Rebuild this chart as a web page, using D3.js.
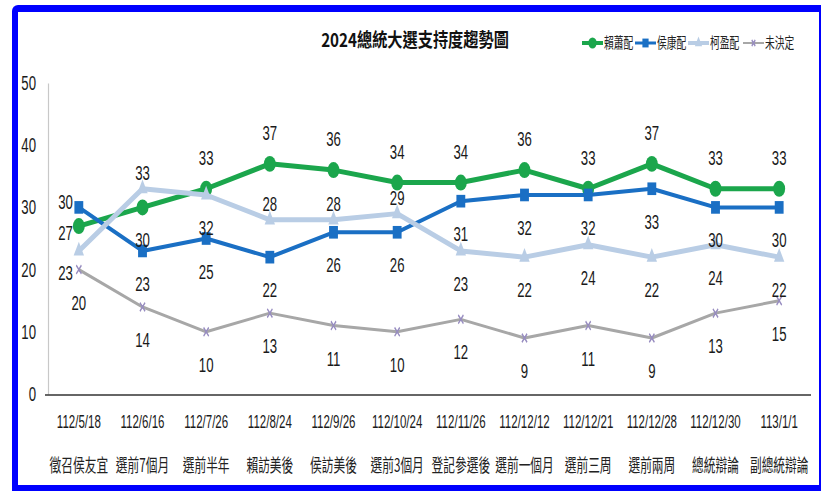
<!DOCTYPE html>
<html>
<head>
<meta charset="utf-8">
<script src="https://cdn.jsdelivr.net/npm/d3@7"></script>
<style>
  body { margin: 0; background: #fff; }
</style>
</head>
<body>
<div id="chart"></div>
<script>
// survey dates and events
var dates = ['112/5/18', '112/6/16', '112/7/26', '112/8/24', '112/9/26', '112/10/24',
  '112/11/26', '112/12/12', '112/12/21', '112/12/28', '112/12/30', '113/1/1'];
var events = ['徵召侯友宜', '選前7個月', '選前半年', '賴訪美後', '侯訪美後', '選前3個月',
  '登記參選後', '選前一個月', '選前三周', '選前兩周', '總統辯論', '副總統辯論'];

// support (%)
var lai = [27, 30, 33, 37, 36, 34, 34, 36, 33, 37, 33, 33];
var hou = [30, 23, 25, 22, 26, 26, 31, 32, 32, 33, 30, 30];
var ko = [23, 33, 32, 28, 28, 29, 23, 22, 24, 22, 24, 22];
var undecided = [20, 14, 10, 13, 11, 10, 12, 9, 11, 9, 13, 15];

var yTicks = [0, 10, 20, 30, 40, 50];

// where each value label sits: l = left, a = above, b = below
var laiPos = ['l', 'b', 'a', 'a', 'a', 'a', 'a', 'a', 'a', 'a', 'a', 'a'];
var houPos = ['l', 'b', 'b', 'b', 'b', 'b', 'b', 'b', 'b', 'b', 'b', 'b'];
var koPos = ['l', 'a', 'b', 'a', 'a', 'a', 'b', 'b', 'b', 'b', 'b', 'b'];
var undPos = ['b', 'b', 'b', 'b', 'b', 'b', 'b', 'b', 'b', 'b', 'b', 'b'];

var W = 821, H = 491;
var SX = 0.66; // the original picture is squeezed sideways
var NUM_FONT = 'Liberation Sans, Arial, sans-serif';
var CJK_FONT = '"Noto Sans CJK TC", "Noto Sans CJK SC", sans-serif';

var svg = d3.select('#chart').append('svg')
  .attr('width', W)
  .attr('height', H)
  .style('display', 'block');

// blue frame
svg.append('rect')
  .attr('x', 12).attr('y', 5)
  .attr('width', W).attr('height', H)
  .attr('rx', 6)
  .attr('fill', '#0000ff');
svg.append('rect')
  .attr('x', 18).attr('y', 12)
  .attr('width', 819 - 18).attr('height', 485 - 12)
  .attr('fill', '#fff');

var x = d3.scalePoint().domain(d3.range(dates.length)).range([47, 811]).padding(0.5);
var y = d3.scaleLinear().domain([0, 50]).range([394, 83]);

function label(g, px, py, s, opt) {
  opt = opt || {};
  return g.append('text')
    .attr('transform', 'translate(' + px + ',' + py + ') scale(' + (opt.sx || SX) + ',1)')
    .attr('text-anchor', opt.anchor || 'middle')
    .attr('font-family', opt.font || NUM_FONT)
    .attr('font-size', opt.size || 20)
    .attr('font-weight', opt.weight || 'normal')
    .attr('fill', opt.fill || '#1a1a1a')
    .text(s);
}

// title
label(svg, 415, 47, '2024總統大選支持度趨勢圖', { font: CJK_FONT, size: 19, weight: 'bold', sx: 0.8, fill: '#111' });

// y axis
var yAxis = svg.append('g')
  .attr('transform', 'translate(48,0)')
  .call(d3.axisLeft(y).tickValues(yTicks).tickSize(0).tickPadding(12));
yAxis.select('.domain').attr('stroke', '#c8c8c8').attr('stroke-width', 1.2);
yAxis.selectAll('.tick text')
  .attr('font-family', NUM_FONT)
  .attr('font-size', 20)
  .attr('fill', '#1a1a1a')
  .attr('x', -12 / SX)
  .attr('transform', 'scale(' + SX + ',1)');

// x axis line
svg.append('line')
  .attr('x1', 45).attr('x2', 811)
  .attr('y1', y(0) + 1).attr('y2', y(0) + 1)
  .attr('stroke', '#333').attr('stroke-width', 1.5);

var xLab = svg.append('g');
dates.forEach(function(d, i) {
  label(xLab, x(i), 428, d, { size: 18, sx: 0.64 });
  label(xLab, x(i), 472, events[i], { font: CJK_FONT, size: 18, sx: 0.65, fill: '#222' });
});

var series = [
  { name: '賴蕭配', values: lai, pos: laiPos, color: '#1ba64c', width: 5, sym: d3.symbolCircle, size: 200, msx: 0.75, above: -31 },
  { name: '侯康配', values: hou, pos: houPos, color: '#1a6fc4', width: 4, sym: d3.symbolSquare, size: 160, msx: 0.7, above: -31 },
  { name: '柯盈配', values: ko, pos: koPos, color: '#b9cde5', width: 5, sym: d3.symbolTriangle, size: 110, msx: 0.65, above: -16 },
  { name: '未決定', values: undecided, pos: undPos, color: '#a7a7a7', width: 3, sym: d3.symbolTimes || d3.symbolX, size: 50, msx: 0.6, above: -31, xMark: '#978cc0' }
];

// left-side label tweaks for the first point (center offset)
var leftDy = { '賴蕭配': 7, '侯康配': -5, '柯盈配': 22, '未決定': 0 };

function marker(g, s, px, py, k) {
  k = k || 1;
  var p = g.append('path')
    .attr('d', d3.symbol().type(s.sym).size(s.size * k * k)())
    .attr('transform', 'translate(' + px + ',' + py + ') scale(' + s.msx + ',1)');
  if (s.xMark) {
    p.attr('fill', 'none').attr('stroke', s.xMark).attr('stroke-width', 2);
  } else {
    p.attr('fill', s.color);
  }
}

var line = d3.line()
  .x(function(d, i) { return x(i); })
  .y(function(d) { return y(d); });

var plot = svg.append('g');
series.forEach(function(s) {
  var g = plot.append('g');
  g.append('path')
    .datum(s.values)
    .attr('d', line)
    .attr('fill', 'none')
    .attr('stroke', s.color)
    .attr('stroke-width', s.width)
    .attr('stroke-linejoin', 'round');
  s.values.forEach(function(v, i) {
    marker(g, s, x(i), y(v));
  });
});

// value labels
var labels = svg.append('g');
series.forEach(function(s) {
  s.values.forEach(function(v, i) {
    var px = x(i), py = y(v), p = s.pos[i];
    if (p === 'l') {
      label(labels, px - 6, py + leftDy[s.name] + 7, v, { anchor: 'end' });
    } else if (p === 'a') {
      label(labels, px, py + s.above + 7, v);
    } else {
      label(labels, px, py + 33 + 7, v);
    }
  });
});

// legend
var legX = [582, 635, 688, 743];
var leg = svg.append('g');
series.forEach(function(s, i) {
  var lx = legX[i];
  leg.append('line')
    .attr('x1', lx).attr('x2', lx + 21)
    .attr('y1', 43).attr('y2', 43)
    .attr('stroke', s.color)
    .attr('stroke-width', s.width - 1);
  marker(leg, s, lx + 10.5, 43, 0.7);
  label(leg, lx + 22, 48, s.name, { font: CJK_FONT, size: 15, sx: 0.65, anchor: 'start', fill: '#222' });
});
</script>
</body>
</html>
